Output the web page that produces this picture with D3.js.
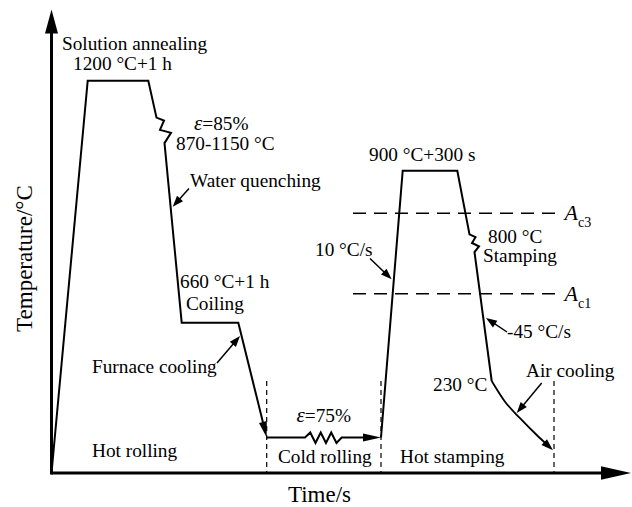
<!DOCTYPE html>
<html>
<head>
<meta charset="utf-8">
<script src="https://cdn.jsdelivr.net/npm/d3@7"></script>
<style>
  html, body { margin: 0; padding: 0; background: #fff; }
  svg { display: block; font-family: "Liberation Serif", "Times New Roman", serif; }
</style>
</head>
<body>
<svg id="chart" width="632" height="507"></svg>
<script>
// ---- Process route data (schematic time units, temperature in °C) ----
const tempLevels   = [0, 25, 230, 660, 800, 900, 1200];       // stops of the schematic temperature axis

const hotRollTime  = [0, 36.2, 96.8, 105, 112.5, 108.5, 119.5, 113, 130.2, 186.8, 215.2];
const hotRollTemp  = [0, 1200, 1200, 1077, 1067, 1036, 1026, 992, 660, 660, 25];

const coldRollTime = [215.2, 329.5];
const coldRollTemp = [25, 25];
const springTime   = [253.5, 290.2];                            // cold rolling deformation symbol

const stampTime    = [329.5, 351.2, 405.8, 418, 424, 420.5, 427.5, 423, 440.2];
const stampTemp    = [25, 900, 900, 812, 808, 800, 794, 784, 230];

const airCoolTime  = [440.2, 453.5, 468.5, 485.2, 501.5];
const airCoolTemp  = [230, 155, 95, 34, 16];

const stageBounds  = [215.2, 329.5, 502.5];
const stageNames   = ["Hot rolling", "Cold rolling", "Hot stamping"];

const criticalTemps = [841, 711];
const criticalNames = ["c3", "c1"];
const criticalSpan  = [301.5, 511.5];

// ---- Scales ----
const svg = d3.select("#chart");
const x = d3.scaleLinear().domain([0, 580]).range([51.5, 631.5]);
const y = d3.scaleLinear().domain(tempLevels)
  .range([473, 437.5, 381, 322.7, 243, 170.7, 80.7]);

const ink = "#000";
const FS = 19.3;

const zip = (ts, vs) => ts.map((t, i) => [x(t), y(vs[i])]);
const line = d3.line();

// filled arrowhead with its tip at `tip`, pointing away from `from`
function arrowHead(tip, from, len, hw) {
  const dx = tip[0] - from[0], dy = tip[1] - from[1];
  const d = Math.hypot(dx, dy), ux = dx / d, uy = dy / d;
  const bx = tip[0] - ux * len, by = tip[1] - uy * len;
  svg.append("path")
    .attr("d", `M${tip[0]},${tip[1]}L${bx - uy * hw},${by + ux * hw}L${bx + uy * hw},${by - ux * hw}Z`)
    .attr("fill", ink);
  return [tip[0] - ux * len * 0.6, tip[1] - uy * len * 0.6];
}

// polyline that ends in an arrowhead
function arrowLine(pts, len, hw, width, curve) {
  const tip = pts[pts.length - 1], prev = pts[pts.length - 2];
  const base = arrowHead(tip, prev, len, hw);
  const body = pts.slice(0, -1).concat([base]);
  svg.append("path")
    .attr("d", (curve ? d3.line().curve(curve) : line)(body))
    .attr("fill", "none").attr("stroke", ink)
    .attr("stroke-width", width).attr("stroke-linejoin", "miter");
}

// ---- Critical temperature lines ----
criticalTemps.forEach((T, i) => {
  svg.append("line")
    .attr("x1", x(criticalSpan[0])).attr("x2", x(criticalSpan[1]))
    .attr("y1", y(T)).attr("y2", y(T))
    .attr("stroke", ink).attr("stroke-width", 1.5)
    .attr("stroke-dasharray", "13 8");
  const t = svg.append("text")
    .attr("x", x(criticalSpan[1]) + 1.5).attr("y", y(T) + 7)
    .attr("font-size", 22).attr("font-style", "italic").text("A");
  t.append("tspan").attr("font-size", 14).attr("font-style", "normal")
    .attr("dy", 7).text(criticalNames[i]);
});

// ---- Stage boundaries ----
stageBounds.forEach(t => {
  svg.append("line")
    .attr("x1", x(t)).attr("x2", x(t))
    .attr("y1", y(230)).attr("y2", y(0))
    .attr("stroke", ink).attr("stroke-width", 1.2)
    .attr("stroke-dasharray", "5 4");
});

// ---- Process curve ----
// hot rolling, coiling and furnace cooling
arrowLine(zip(hotRollTime, hotRollTemp), 16, 4, 2);

// cold rolling with the deformation spring
{
  const y0 = y(coldRollTemp[0]);
  const s0 = x(springTime[0]), s1 = x(springTime[1]);
  const step = (s1 - s0) / 7;
  const pts = [[x(coldRollTime[0]), y0], [s0, y0]];
  for (let i = 1; i <= 6; i++) pts.push([s0 + i * step, y0 + (i % 2 ? -5 : 5.5)]);
  pts.push([s1, y0], [x(coldRollTime[1]), y0]);
  arrowLine(pts, 18, 4, 2);
}

// hot stamping
svg.append("path")
  .attr("d", line(zip(stampTime, stampTemp)))
  .attr("fill", "none").attr("stroke", ink).attr("stroke-width", 2)
  .attr("stroke-linejoin", "miter");

// air cooling
arrowLine(zip(airCoolTime, airCoolTemp), 12, 4, 1.8, d3.curveMonotoneX);

// ---- Axes ----
svg.append("line").attr("x1", x(0)).attr("x2", 603).attr("y1", y(0)).attr("y2", y(0))
  .attr("stroke", ink).attr("stroke-width", 3);
arrowHead([631, y(0)], [x(0), y(0)], 30, 6.7);
svg.append("line").attr("x1", x(0)).attr("x2", x(0)).attr("y1", y(0) + 1.5).attr("y2", 32)
  .attr("stroke", ink).attr("stroke-width", 3);
arrowHead([x(0), 9.5], [x(0), y(0)], 24, 6.5);

svg.append("text").attr("x", 319.5).attr("y", 502)
  .attr("text-anchor", "middle").attr("font-size", 23).text("Time/s");
svg.append("text").attr("transform", "translate(32,258.5) rotate(-90)")
  .attr("text-anchor", "middle").attr("font-size", 23).text("Temperature/°C");

// ---- Annotations ----
const label = (tx, ty, str) =>
  svg.append("text").attr("x", tx).attr("y", ty).attr("font-size", FS).text(str);

label(62, 50, "Solution annealing");
label(73, 70, "1200 °C+1 h");
{
  const t = label(194, 130, "");
  t.append("tspan").attr("font-style", "italic").attr("font-size", 21).text("ε");
  t.append("tspan").text("=85%");
}
label(176, 150, "870-1150 °C");
label(190, 187, "Water quenching");
label(180, 288, "660 °C+1 h");
label(186, 310, "Coiling");
label(92, 373, "Furnace cooling");
{
  const t = label(296.5, 421.5, "");
  t.append("tspan").attr("font-style", "italic").attr("font-size", 21).text("ε");
  t.append("tspan").text("=75%");
}
label(369, 161, "900 °C+300 s");
label(315, 256, "10 °C/s");
label(488, 243, "800 °C");
label(483, 262, "Stamping");
label(507, 338, "-45 °C/s");
label(433, 391, "230 °C");
label(526, 377, "Air cooling");

// stage names
[[92, 456.5], [278, 462.5], [400, 463]].forEach((p, i) => label(p[0], p[1], stageNames[i]));

// pointer arrows
const pointer = (from, tip) => arrowLine([from, tip], 11, 4, 1.5);
pointer([189, 188.5], [172.7, 206.7]);
pointer([217, 363], [240, 336]);
pointer([370, 258.5], [391.7, 279.3]);
pointer([507, 332], [486, 318]);
pointer([541.7, 383], [516.7, 413]);
</script>
</body>
</html>
